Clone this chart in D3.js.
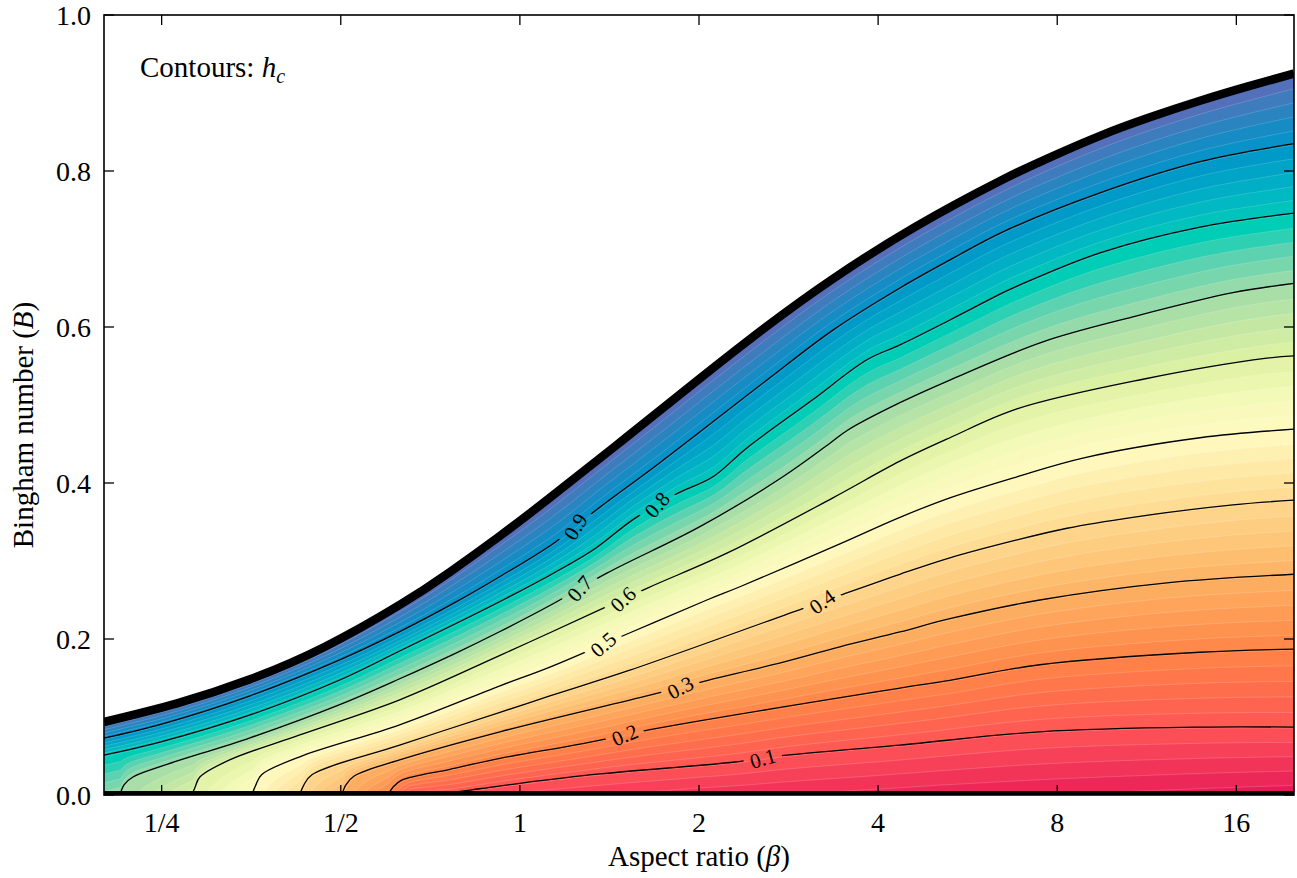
<!DOCTYPE html>
<html>
<head>
<meta charset="utf-8">
<script src="https://cdn.jsdelivr.net/npm/d3@7"></script>
<style>
  html, body { margin: 0; padding: 0; background: #fff; }
  svg { display: block; }
  text { font-family: "Liberation Serif", "DejaVu Serif", serif; fill: #000; }
</style>
</head>
<body>
<svg id="chart" width="1297" height="878"></svg>
<script>
// ---------------- data ----------------
const xTickValues = [0.25, 0.5, 1, 2, 4, 8, 16];
const xTickLabels = ["1/4", "1/2", "1", "2", "4", "8", "16"];
const yTickValues = [0, 0.2, 0.4, 0.6, 0.8, 1.0];
const yTickLabels = ["0.0", "0.2", "0.4", "0.6", "0.8", "1.0"];

const contourLevels = [0.1, 0.2, 0.3, 0.4, 0.5, 0.6, 0.7, 0.8, 0.9];

// critical curve where h_c reaches 1 (beta, B)
const criticalCurve = [
  [0.2, 0.0936], [0.2653, 0.1174], [0.3519, 0.1483], [0.4703, 0.1901], [0.6289, 0.2440],
  [0.7630, 0.2860], [0.9259, 0.3322], [1.1236, 0.3812], [1.5017, 0.4572], [2.0078, 0.5341],
  [2.592, 0.6001], [3.360, 0.6619], [4.633, 0.7290], [6.410, 0.7872], [7.778, 0.8176],
  [9.44, 0.8451], [11.45, 0.8688], [13.90, 0.8900], [16.68, 0.9081], [20, 0.9250]
];

// iso-lines of h_c, each as (beta, B)
const hc01 = [[0.653, 0], [0.763, 0.003], [0.856, 0.008], [1, 0.015], [1.363, 0.027], [2.28, 0.042],
  [2.81, 0.051], [4.352, 0.064], [7.48, 0.081], [13.9, 0.087], [20, 0.087]];
const hc02 = [[0.600, 0], [0.612, 0.010], [0.633, 0.019], [0.763, 0.033], [0.926, 0.047], [1.276, 0.066],
  [1.719, 0.086], [4.352, 0.137], [5.281, 0.147], [7.48, 0.167], [13.9, 0.183], [20, 0.187]];
const hc03 = [[0.502, 0], [0.510, 0.013], [0.526, 0.024], [0.628, 0.045], [0.926, 0.081], [1.654, 0.128],
  [2.07, 0.147], [2.662, 0.167], [3.45, 0.190], [4.352, 0.209], [5.281, 0.226], [7.48, 0.250],
  [12.23, 0.272], [20, 0.283]];
const hc04 = [[0.4266, 0], [0.4335, 0.013], [0.4472, 0.026], [0.628, 0.064], [0.926, 0.106], [1.123, 0.127],
  [1.530, 0.160], [3.037, 0.241], [3.45, 0.256], [4.352, 0.283], [5.281, 0.304], [6.845, 0.327],
  [8.31, 0.342], [10.72, 0.356], [15.79, 0.372], [20, 0.378]];
const hc05 = [[0.3544, 0], [0.360, 0.013], [0.368, 0.026], [0.4266, 0.049], [0.628, 0.090], [0.926, 0.140],
  [1.123, 0.164], [1.542, 0.209], [2.062, 0.25], [2.343, 0.267], [3.45, 0.322], [4.352, 0.356],
  [5.281, 0.381], [6.845, 0.408], [8.836, 0.432], [13.9, 0.458], [20, 0.469]];
const hc06 = [[0.281, 0], [0.2845, 0.010], [0.2898, 0.023], [0.3252, 0.045], [0.4266, 0.077], [0.628, 0.122],
  [0.926, 0.179], [1.123, 0.208], [1.635, 0.265], [2.228, 0.31], [3.358, 0.381], [4.352, 0.428],
  [5.281, 0.458], [6.845, 0.495], [11.15, 0.533], [18.01, 0.560], [20, 0.563]];
const hc07 = [[0.2128, 0], [0.2161, 0.013], [0.2237, 0.023], [0.25, 0.037], [0.352, 0.0733], [0.498, 0.1159],
  [0.628, 0.1490], [0.784, 0.1826], [0.926, 0.2096], [1.123, 0.2429], [1.400, 0.2844], [2.007, 0.344],
  [2.767, 0.408], [3.32, 0.451], [3.559, 0.468], [4.352, 0.503], [5.281, 0.532], [7.57, 0.581],
  [10.72, 0.613], [15.79, 0.644], [20, 0.656]];
const hc08 = [[0.2, 0.051], [0.25, 0.0683], [0.352, 0.1026], [0.498, 0.1474], [0.628, 0.1846], [0.784, 0.2205],
  [0.951, 0.2526], [1.093, 0.2769], [1.327, 0.314], [1.549, 0.353], [1.822, 0.385], [2.111, 0.408],
  [2.407, 0.445], [3.096, 0.506], [3.830, 0.558], [4.352, 0.577], [5.281, 0.609],
  [6.484, 0.644], [6.924, 0.654], [9.437, 0.695], [13.9, 0.728], [20, 0.746]];
const hc09 = [[0.2, 0.073], [0.25, 0.0910], [0.352, 0.1272], [0.498, 0.1733], [0.628, 0.2095], [0.784, 0.2482],
  [0.926, 0.2801], [1.145, 0.3238], [1.347, 0.366], [1.719, 0.426], [2.601, 0.532], [3.358, 0.596],
  [4.352, 0.65], [5.281, 0.686], [6.484, 0.722], [9.437, 0.772], [13.9, 0.812], [20, 0.835]];
const isoLines = [hc01, hc02, hc03, hc04, hc05, hc06, hc07, hc08, hc09];

// h_c along B = 0 (beta, h_c)
const floorValues = [[0.2, 0.71], [0.2128, 0.7], [0.281, 0.6], [0.3544, 0.5], [0.4266, 0.4], [0.502, 0.3],
  [0.600, 0.2], [0.653, 0.1], [0.8, 0.085], [1, 0.07], [2, 0.045], [5, 0.025], [20, 0.005]];

// aspect ratio at which each iso-line carries its label
const labelBeta = [2.56, 1.50, 1.86, 3.22, 1.38, 1.49, 1.26, 1.70, 1.24];

// ---------------- layout ----------------
const W = 1297, H = 878;
const X0 = 104, X1 = 1294, Y0 = 15, Y1 = 795;

const x = d3.scaleLog().base(2).domain([0.2, 20]).range([X0, X1]);
const y = d3.scaleLinear().domain([0, 1]).range([Y1, Y0]);

const svg = d3.select("#chart");
const defs = svg.append("defs");

defs.append("clipPath").attr("id", "plotClip")
  .append("rect").attr("x", X0).attr("y", Y0).attr("width", X1 - X0).attr("height", Y1 - Y0);

const isoLine = d3.line().x(d => x(d[0])).y(d => y(d[1])).curve(d3.curveCatmullRom.alpha(0.5));
const edgeLine = d3.line().x(d => x(d[0])).y(d => y(d[1])).curve(d3.curveNatural);
const edgeArea = d3.area().x(d => x(d[0])).y0(Y1).y1(d => y(d[1])).curve(d3.curveNatural);

defs.append("clipPath").attr("id", "fieldClip")
  .append("path").attr("d", edgeArea(criticalCurve));

// colour ramp for h_c
const rampStops = [0.00, 0.05, 0.10, 0.15, 0.20, 0.25, 0.30, 0.35, 0.40, 0.45, 0.50, 0.55, 0.60, 0.65,
  0.70, 0.75, 0.79, 0.83, 0.865, 0.90, 0.94, 0.97, 1.00];
const rampColors = ["#e2165a", "#f23459", "#ff5556", "#ff6e4c", "#ff8447", "#fe9b55", "#fdb163", "#fdc678",
  "#fed88e", "#feeaa6", "#fffac2", "#f3f9b6", "#dff2a3", "#c4e8a4", "#a2dca8", "#5cd2b0", "#00cdb6",
  "#00b9c2", "#00a6c7", "#0095c8", "#1e88c2", "#3f7cbd", "#5e6ab8"];
const color = d3.scaleLinear().domain(rampStops).range(rampColors).interpolate(d3.interpolateRgb).clamp(true);

// ---------- sample the drawn curves so the shaded field agrees with them ----------
function sampleCurve(d) {
  const p = svg.append("path").attr("d", d).attr("fill", "none");
  const node = p.node();
  const L = node.getTotalLength();
  const xs = [], ys = [];
  for (let s = 0; s <= L + 0.01; s += 0.5) {
    const pt = node.getPointAtLength(Math.min(s, L));
    if (!xs.length || pt.x > xs[xs.length - 1] + 1e-6) { xs.push(pt.x); ys.push(Math.min(pt.y, Y1)); }
  }
  p.remove();
  return { xs, ys };
}
function lookup(c, px) {
  if (px < c.xs[0] - 1e-6) return null;
  if (px >= c.xs[c.xs.length - 1]) return c.ys[c.ys.length - 1];
  const i = Math.max(1, d3.bisectRight(c.xs, px));
  const t = (px - c.xs[i - 1]) / (c.xs[i] - c.xs[i - 1]);
  return c.ys[i - 1] + t * (c.ys[i] - c.ys[i - 1]);
}

const isoSampled = isoLines.map(d => sampleCurve(isoLine(d)));
const edgeSampled = sampleCurve(edgeLine(criticalCurve));
const floorH = d3.scaleLinear()
  .domain(floorValues.map(d => Math.log(d[0])))
  .range(floorValues.map(d => d[1]))
  .clamp(true);

// ---------- scalar field on a pixel grid ----------
const res = 2;
const nx = Math.round((X1 - X0) / res) + 1;
const ny = Math.round((Y1 - Y0) / res) + 1;
const field = new Float64Array(nx * ny);

for (let i = 0; i < nx; i++) {
  const px = X0 + i * res;
  const beta = x.invert(px);
  const anchors = [[Y1, floorH(Math.log(beta))]];
  contourLevels.forEach((lv, k) => {
    const py = lookup(isoSampled[k], px);
    if (py !== null) anchors.push([Math.min(py, Y1 - 0.01), lv]);
  });
  anchors.push([lookup(edgeSampled, px), 1]);
  anchors.sort((a, b) => b[0] - a[0]);
  let k = 0;
  for (let j = ny - 1; j >= 0; j--) {
    const py = Y0 + j * res;
    let h;
    if (py >= anchors[0][0]) h = anchors[0][1];
    else if (py <= anchors[anchors.length - 1][0]) h = 1;
    else {
      while (k < anchors.length - 2 && py <= anchors[k + 1][0]) k++;
      const a = anchors[k], b = anchors[k + 1];
      const t = (a[0] - py) / (a[0] - b[0] || 1);
      h = a[1] + t * (b[1] - a[1]);
    }
    field[j * nx + i] = h;
  }
}

// ---------- filled bands ----------
const step = 0.02;
const thresholds = d3.range(0, 50).map(i => +(i * step).toFixed(4));
const bands = d3.contours().size([nx, ny]).thresholds(thresholds)(field);
const gridPath = d3.geoPath(d3.geoIdentity().scale(res).translate([X0, Y0]));

const fieldG = svg.append("g").attr("clip-path", "url(#fieldClip)")
  .append("g").attr("clip-path", "url(#plotClip)");
fieldG.selectAll("path.band")
  .data(bands)
  .join("path")
  .attr("class", "band")
  .attr("d", gridPath)
  .attr("fill", d => color(d.value + step / 2))
  .attr("stroke", "rgba(255,255,255,0.28)")
  .attr("stroke-width", 0.6);

// ---------- iso-lines with gaps for their labels ----------
const labelSize = 21;
const labels = contourLevels.map((lv, k) => {
  const px = x(labelBeta[k]);
  const py = lookup(isoSampled[k], px);
  const pa = lookup(isoSampled[k], px - 10), pb = lookup(isoSampled[k], px + 10);
  const ang = Math.atan2((pb - pa) * 2.0, 20) * 180 / Math.PI;
  return { text: lv.toFixed(1), px, py, ang };
});

const mask = defs.append("mask").attr("id", "labelGaps")
  .attr("maskUnits", "userSpaceOnUse")
  .attr("x", 0).attr("y", 0).attr("width", W).attr("height", H);
mask.append("rect").attr("x", 0).attr("y", 0).attr("width", W).attr("height", H).attr("fill", "#fff");

const labelG = svg.append("g");
labels.forEach(l => {
  const t = labelG.append("text")
    .attr("transform", `translate(${l.px},${l.py}) rotate(${l.ang})`)
    .attr("text-anchor", "middle")
    .attr("dy", "0.35em")
    .style("font-size", labelSize + "px")
    .text(l.text);
  const w = t.node().getComputedTextLength() + 12;
  mask.append("rect")
    .attr("x", -w / 2).attr("y", -labelSize * 0.45)
    .attr("width", w).attr("height", labelSize * 0.9)
    .attr("transform", `translate(${l.px},${l.py}) rotate(${l.ang})`)
    .attr("fill", "#000");
});

svg.insert("g", () => labelG.node())
  .attr("clip-path", "url(#plotClip)")
  .append("g").attr("mask", "url(#labelGaps)")
  .selectAll("path.iso")
  .data(isoLines)
  .join("path")
  .attr("class", "iso")
  .attr("d", isoLine)
  .attr("fill", "none")
  .attr("stroke", "#000")
  .attr("stroke-width", 1.3);

// ---------- heavy outline: critical curve and B = 0 ----------
const heavy = svg.append("g").attr("clip-path", "url(#plotClip)");
heavy.append("path")
  .attr("d", edgeLine(criticalCurve))
  .attr("fill", "none").attr("stroke", "#000").attr("stroke-width", 8.5);
heavy.append("line")
  .attr("x1", X0).attr("x2", X1).attr("y1", y(0)).attr("y2", y(0))
  .attr("stroke", "#000").attr("stroke-width", 8);

// ---------- frame and ticks ----------
const frame = svg.append("g");
frame.append("rect")
  .attr("x", X0).attr("y", Y0).attr("width", X1 - X0).attr("height", Y1 - Y0)
  .attr("fill", "none").attr("stroke", "#000").attr("stroke-width", 1.6);

const tickLen = 10;
xTickValues.forEach((v, i) => {
  const px = x(v);
  frame.append("line").attr("x1", px).attr("x2", px).attr("y1", Y1).attr("y2", Y1 - tickLen)
    .attr("stroke", "#000").attr("stroke-width", 1.3);
  frame.append("line").attr("x1", px).attr("x2", px).attr("y1", Y0).attr("y2", Y0 + tickLen)
    .attr("stroke", "#000").attr("stroke-width", 1.3);
  frame.append("text").attr("x", px).attr("y", Y1 + 37)
    .attr("text-anchor", "middle").style("font-size", "28px").text(xTickLabels[i]);
});
yTickValues.forEach((v, i) => {
  const py = y(v);
  frame.append("line").attr("x1", X0).attr("x2", X0 + tickLen).attr("y1", py).attr("y2", py)
    .attr("stroke", "#000").attr("stroke-width", 1.3);
  frame.append("line").attr("x1", X1).attr("x2", X1 - tickLen).attr("y1", py).attr("y2", py)
    .attr("stroke", "#000").attr("stroke-width", 1.3);
  frame.append("text").attr("x", X0 - 13).attr("y", py).attr("dy", "0.35em")
    .attr("text-anchor", "end").style("font-size", "28px").text(yTickLabels[i]);
});

// ---------- titles ----------
const xt = svg.append("text").attr("x", (X0 + X1) / 2).attr("y", 866)
  .attr("text-anchor", "middle").style("font-size", "29px");
xt.append("tspan").text("Aspect ratio (");
xt.append("tspan").style("font-style", "italic").text("β");
xt.append("tspan").text(")");

const yt = svg.append("text")
  .attr("transform", `translate(33,${(Y0 + Y1) / 2 + 20}) rotate(-90)`)
  .attr("text-anchor", "middle").style("font-size", "29px");
yt.append("tspan").text("Bingham number (");
yt.append("tspan").style("font-style", "italic").text("B");
yt.append("tspan").text(")");

const note = svg.append("text").attr("x", 140).attr("y", 77).style("font-size", "29px");
note.append("tspan").text("Contours: ");
note.append("tspan").style("font-style", "italic").text("h");
note.append("tspan").style("font-style", "italic").style("font-size", "20px")
  .attr("dy", 6).text("c");
</script>
</body>
</html>
